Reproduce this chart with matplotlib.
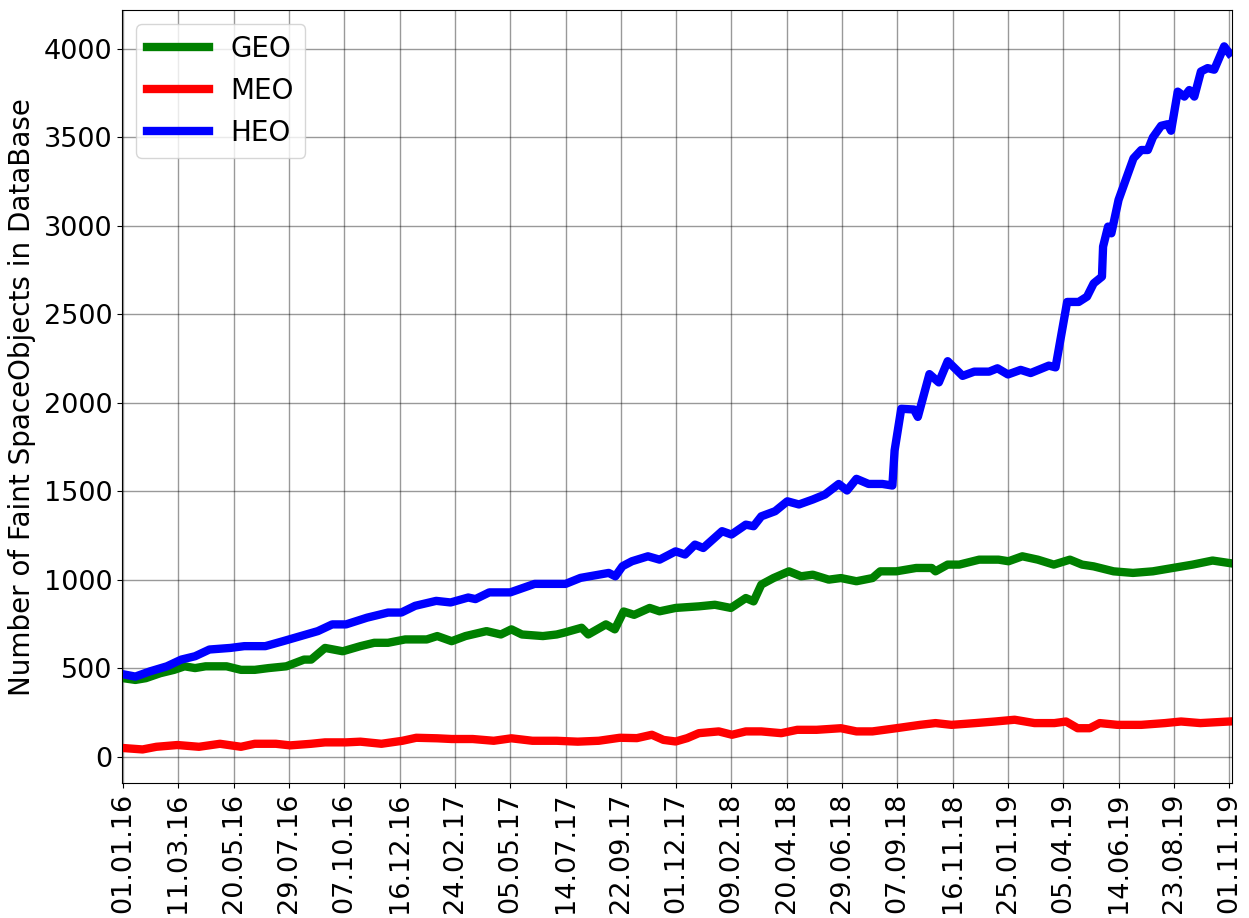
import numpy as np
import matplotlib
matplotlib.use("Agg")
import matplotlib.pyplot as plt
import matplotlib.dates as mdates

# x values are in units of the 70-day tick spacing, counted from 01.01.16
heo_k = [0.0, 0.22, 0.48, 0.79, 1.05, 1.3, 1.56, 1.94, 2.19, 2.57, 2.89, 3.21, 3.52, 3.78, 4.03,
         4.41, 4.79, 5.03, 5.28, 5.66, 5.92, 6.24, 6.37, 6.62, 7.0, 7.44, 7.81, 8.0, 8.27, 8.78,
         8.9, 9.03, 9.2, 9.49, 9.7, 9.99, 10.16, 10.34, 10.49, 10.83, 11.0, 11.26, 11.4, 11.54,
         11.79, 12.01, 12.22, 12.47, 12.69, 12.94, 13.09, 13.26, 13.48, 13.73, 13.91, 13.95,
         14.07, 14.3, 14.37, 14.58, 14.75, 14.91, 15.18, 15.39, 15.66, 15.81, 16.0, 16.23, 16.41,
         16.74, 16.86, 17.07, 17.28, 17.43, 17.55, 17.7, 17.72, 17.81, 17.87, 18.0, 18.15, 18.27,
         18.41, 18.53, 18.62, 18.77, 18.89, 18.95, 19.07, 19.19, 19.28, 19.37, 19.49, 19.61,
         19.73, 19.91, 20.0]
heo_v = [465, 452, 481, 510, 548, 567, 605, 614, 624, 624, 652, 681, 709, 747, 747,
         785, 814, 814, 852, 880, 871, 899, 890, 928, 928, 976, 976, 976, 1010, 1038,
         1019, 1076, 1104, 1132, 1113, 1160, 1142, 1198, 1179, 1274, 1255, 1311, 1302, 1358,
         1387, 1443, 1425, 1453, 1481, 1541, 1504, 1570, 1541, 1541, 1532, 1730,
         1966, 1962, 1920, 2162, 2115, 2235, 2152, 2176, 2176, 2195, 2160, 2186, 2168,
         2210, 2200, 2570, 2570, 2600, 2675, 2713, 2883, 2996, 2958, 3147, 3278, 3382,
         3429, 3429, 3500, 3566, 3575, 3538, 3759, 3731, 3768, 3731, 3873, 3892,
         3883, 4015, 3977]

geo_k = [0.0, 0.22, 0.41, 0.67, 0.92, 1.11, 1.3, 1.49, 1.87, 2.13, 2.38, 2.63, 2.95, 3.27, 3.4,
         3.65, 3.97, 4.29, 4.54, 4.79, 5.1, 5.49, 5.68, 5.94, 6.19, 6.57, 6.83, 7.02, 7.21, 7.59,
         7.84, 7.97, 8.29, 8.41, 8.73, 8.89, 9.05, 9.24, 9.52, 9.7, 9.99, 10.41, 10.7, 10.99,
         11.26, 11.4, 11.54, 11.76, 12.04, 12.26, 12.47, 12.76, 12.98, 13.26, 13.55, 13.69,
         13.98, 14.34, 14.62, 14.69, 14.91, 15.12, 15.48, 15.83, 16.01, 16.26, 16.54, 16.83,
         17.12, 17.34, 17.55, 17.91, 18.26, 18.62, 18.98, 19.34, 19.7, 20.0]
geo_v = [443, 433, 443, 471, 490, 510, 500, 510, 510, 490, 490, 500, 510, 548, 548,
         614, 595, 624, 643, 643, 662, 662, 681, 652, 681, 709, 690, 719, 690, 681,
         690, 700, 728, 690, 747, 719, 820, 801, 840, 821, 840, 849, 858, 840,
         896, 877, 972, 1009, 1047, 1019, 1028, 1000, 1009, 991, 1009, 1047,
         1047, 1066, 1066, 1047, 1085, 1085, 1113, 1113, 1104, 1132, 1113, 1085,
         1113, 1085, 1075, 1047, 1038, 1047, 1066, 1085, 1108, 1094]

meo_k = [0.0, 0.35, 0.6, 0.98, 1.37, 1.75, 2.13, 2.38, 2.76, 3.02, 3.4, 3.65, 4.03, 4.29, 4.67,
         5.05, 5.3, 5.68, 5.94, 6.32, 6.7, 7.02, 7.4, 7.84, 8.22, 8.6, 8.98, 9.29, 9.56, 9.77,
         9.99, 10.2, 10.41, 10.77, 11.01, 11.26, 11.54, 11.9, 12.19, 12.54, 12.98, 13.26, 13.55,
         13.98, 14.41, 14.69, 14.98, 15.41, 15.77, 16.12, 16.48, 16.84, 17.05, 17.26, 17.48,
         17.66, 17.98, 18.41, 18.84, 19.13, 19.48, 20.0]
meo_v = [48, 40, 55, 65, 55, 72, 55, 72, 72, 63, 72, 80, 80, 84, 72,
         89, 106, 103, 99, 99, 89, 103, 89, 89, 84, 89, 106, 104, 123, 94,
         85, 104, 132, 142, 123, 142, 142, 132, 151, 151, 160, 142, 142,
         160, 179, 189, 179, 189, 198, 208, 189, 189, 198, 160, 160,
         189, 179, 179, 189, 198, 189, 198]

start = np.datetime64("2016-01-01")


def to_dates(ks):
    return start + np.round(np.array(ks) * 70 * 24).astype("timedelta64[h]")


fig = plt.figure(figsize=(12.49, 9.18), dpi=100)
ax = fig.add_axes([0.098, 0.147, 0.888, 0.842])

ax.plot(to_dates(geo_k), geo_v, color="green", lw=6, label="GEO")
ax.plot(to_dates(meo_k), meo_v, color="red", lw=6, label="MEO")
ax.plot(to_dates(heo_k), heo_v, color="blue", lw=6, label="HEO")

ticks = start + np.arange(21) * np.timedelta64(70, "D")
ax.set_xticks(ticks)
ax.xaxis.set_major_formatter(mdates.DateFormatter("%d.%m.%y"))
ax.set_xlim(start - np.timedelta64(1, "D"), start + np.timedelta64(1403, "D"))
ax.set_ylim(-150, 4220)
ax.set_yticks(np.arange(0, 4001, 500))

ax.tick_params(axis="x", labelsize=19.5, rotation=90)
ax.tick_params(axis="y", labelsize=19.5)
ax.set_ylabel("Number of Faint SpaceObjects in DataBase", fontsize=20, labelpad=6)
ax.grid(True, color="black", alpha=0.4, lw=1)

ax.legend(loc="upper left", fontsize=20, handlelength=2.2)

fig.savefig("out.png")
